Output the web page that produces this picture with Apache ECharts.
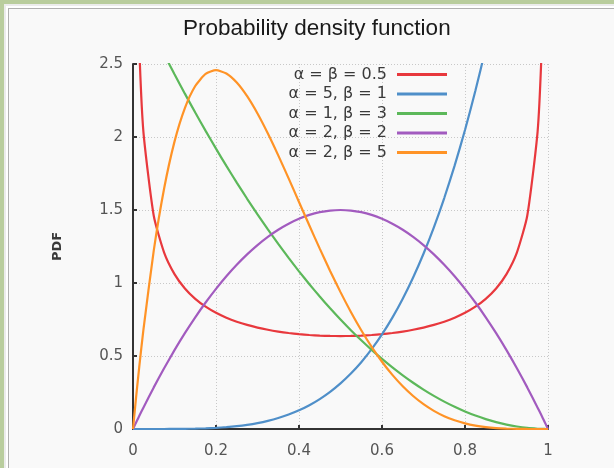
<!DOCTYPE html>
<html>
<head>
<meta charset="utf-8">
<script src="https://cdn.jsdelivr.net/npm/echarts@6/dist/echarts.min.js"></script>
<style>
html,body{margin:0;padding:0;width:614px;height:468px;overflow:hidden;background:#b9cd9d;}
#f1{position:absolute;left:4px;top:4px;width:700px;height:600px;background:#ececec;}
#f2{position:absolute;left:6px;top:6px;width:700px;height:600px;background:#ffffff;}
#f3{position:absolute;left:8px;top:8px;width:700px;height:600px;background:#f9f9f9;border-left:1px solid #b0b0b0;border-top:1px solid #b0b0b0;}
#chart{position:absolute;left:0;top:0;width:614px;height:468px;}
</style>
</head>
<body>
<div id="f1"></div><div id="f2"></div><div id="f3"></div>
<div id="chart"></div>
<script>
// x positions (shared)
const xs = [0, 0.005, 0.01, 0.015, 0.025, 0.05, 0.075, 0.1, 0.125, 0.15, 0.175, 0.2, 0.225, 0.25, 0.275, 0.3, 0.325, 0.35, 0.375, 0.4, 0.425, 0.45, 0.475, 0.5, 0.525, 0.55, 0.575, 0.6, 0.625, 0.65, 0.675, 0.7, 0.725, 0.75, 0.775, 0.8, 0.825, 0.85, 0.875, 0.9, 0.925, 0.95, 0.975, 0.985, 0.99, 0.995, 1];

const seriesNames = ['α = β = 0.5', 'α = 5, β = 1', 'α = 1, β = 3', 'α = 2, β = 2', 'α = 2, β = 5'];

const redVals = [null, 4.513, 3.199, 2.619, 2.039, 1.4605, 1.2085, 1.0610, 0.9625, 0.8915, 0.8377, 0.7958, 0.7623, 0.7351, 0.7129, 0.6946, 0.6796, 0.6674, 0.6575, 0.6497, 0.6439, 0.6398, 0.6374, 0.6366, 0.6374, 0.6398, 0.6439, 0.6497, 0.6575, 0.6674, 0.6796, 0.6946, 0.7129, 0.7351, 0.7623, 0.7958, 0.8377, 0.8915, 0.9625, 1.0610, 1.2085, 1.4605, 2.039, 2.619, 3.199, 4.513, null];

const blueVals = [0, 0, 0, 0, 0, 0.0000313, 0.000158, 0.0005, 0.00122, 0.00253, 0.00469, 0.008, 0.0128, 0.0195, 0.0286, 0.0405, 0.0558, 0.0750, 0.0989, 0.128, 0.1631, 0.2050, 0.2545, 0.3125, 0.3798, 0.4575, 0.5466, 0.648, 0.7629, 0.8925, 1.0380, 1.2005, 1.3814, 1.5820, 1.8038, 2.048, 2.3163, 2.6100, 2.9309, 3.2805, 3.6605, 4.0725, 4.518, 4.7067, 4.803, 4.9008, 5];

const greenVals = [3, 2.970, 2.940, 2.9107, 2.852, 2.7075, 2.5669, 2.43, 2.2969, 2.1675, 2.0419, 1.92, 1.8019, 1.6875, 1.5769, 1.47, 1.3669, 1.2675, 1.1719, 1.08, 0.9919, 0.9075, 0.8269, 0.75, 0.6769, 0.6075, 0.5419, 0.48, 0.4219, 0.3675, 0.3169, 0.27, 0.2269, 0.1875, 0.1519, 0.12, 0.0919, 0.0675, 0.0469, 0.03, 0.0169, 0.0075, 0.0019, 0.0007, 0.0003, 0.0001, 0];

const purpleVals = [0, 0.0299, 0.0594, 0.0887, 0.1463, 0.285, 0.4163, 0.54, 0.6563, 0.765, 0.8663, 0.96, 1.0463, 1.125, 1.1963, 1.26, 1.3163, 1.365, 1.4063, 1.44, 1.4663, 1.485, 1.4963, 1.5, 1.4963, 1.485, 1.4663, 1.44, 1.4063, 1.365, 1.3163, 1.26, 1.1963, 1.125, 1.0463, 0.96, 0.8663, 0.765, 0.6563, 0.54, 0.4163, 0.285, 0.1463, 0.0887, 0.0594, 0.0299, 0];

const orangeVals = [0, 0.147, 0.2882, 0.4236, 0.6778, 1.2218, 1.6472, 1.9683, 2.1982, 2.349, 2.4321, 2.4576, 2.4351, 2.373, 2.2793, 2.1609, 2.024, 1.8743, 1.7166, 1.5552, 1.3937, 1.2353, 1.0826, 0.9375, 0.8018, 0.6766, 0.5628, 0.4608, 0.3708, 0.2926, 0.2259, 0.1701, 0.1244, 0.0879, 0.0596, 0.0384, 0.0232, 0.0129, 0.0064, 0.0027, 0.0009, 0.0002, 0, 0, 0, 0, 0];

const xTicks = [0, 0.2, 0.4, 0.6, 0.8, 1];
const yTicks = [0, 0.5, 1, 1.5, 2, 2.5];

const colors = ['#e8383d', '#4f8fc9', '#5cb85a', '#a25bbf', '#ff9326'];
const allVals = [redVals, blueVals, greenVals, purpleVals, orangeVals];

const chart = echarts.init(document.getElementById('chart'), null, {renderer: 'canvas'});
const tickFont = {color: '#555', fontSize: 15, fontFamily: 'DejaVu Sans'};

chart.setOption({
  backgroundColor: 'transparent',
  animation: false,
  title: {
    text: 'Probability density function',
    left: 178,
    top: 12,
    textStyle: {fontFamily: 'Liberation Sans', fontSize: 22.5, fontWeight: 'normal', color: '#1a1a1a'}
  },
  legend: {
    data: seriesNames,
    orient: 'vertical',
    left: 277,
    top: 65,
    padding: 0,
    itemGap: 0.5,
    align: 'right',
    icon: 'rect',
    itemWidth: 50,
    itemHeight: 3,
    textStyle: {fontFamily: 'DejaVu Sans', fontSize: 16, color: '#3a3a3a', width: 110, align: 'right', lineHeight: 19, padding: [0, 5, 0, 0]}
  },
  grid: {left: 133, right: 66, top: 64, bottom: 39, containLabel: false},
  xAxis: {
    type: 'value', min: xTicks[0], max: xTicks[xTicks.length - 1], interval: 0.2,
    axisLine: {show: true, onZero: false, lineStyle: {color: '#333', width: 2}},
    axisTick: {show: true, inside: true, length: 4, lineStyle: {color: '#333', width: 2}},
    axisLabel: Object.assign({margin: 15}, tickFont),
    splitLine: {show: true, lineStyle: {color: '#c8c8c8', type: [1, 2], width: 1}}
  },
  yAxis: {
    type: 'value', min: yTicks[0], max: yTicks[yTicks.length - 1], interval: 0.5,
    name: 'PDF', nameLocation: 'middle', nameGap: 69, nameRotate: 90,
    nameTextStyle: {fontFamily: 'DejaVu Sans', fontSize: 13, color: '#3a3a3a', fontWeight: 'bold'},
    axisLine: {show: true, lineStyle: {color: '#333', width: 2}},
    axisTick: {show: true, inside: true, length: 4, lineStyle: {color: '#333', width: 2}},
    axisLabel: Object.assign({margin: 10}, tickFont),
    splitLine: {show: true, lineStyle: {color: '#c8c8c8', type: [1, 2], width: 1}}
  },
  series: seriesNames.map((name, k) => ({
    name: name,
    type: 'line',
    data: xs.map((x, i) => [x, allVals[k][i]]),
    showSymbol: false,
    smooth: 0.2,
    clip: true,
    color: colors[k],
    lineStyle: {width: 2.2, color: colors[k]}
  }))
});
</script>
</body>
</html>
